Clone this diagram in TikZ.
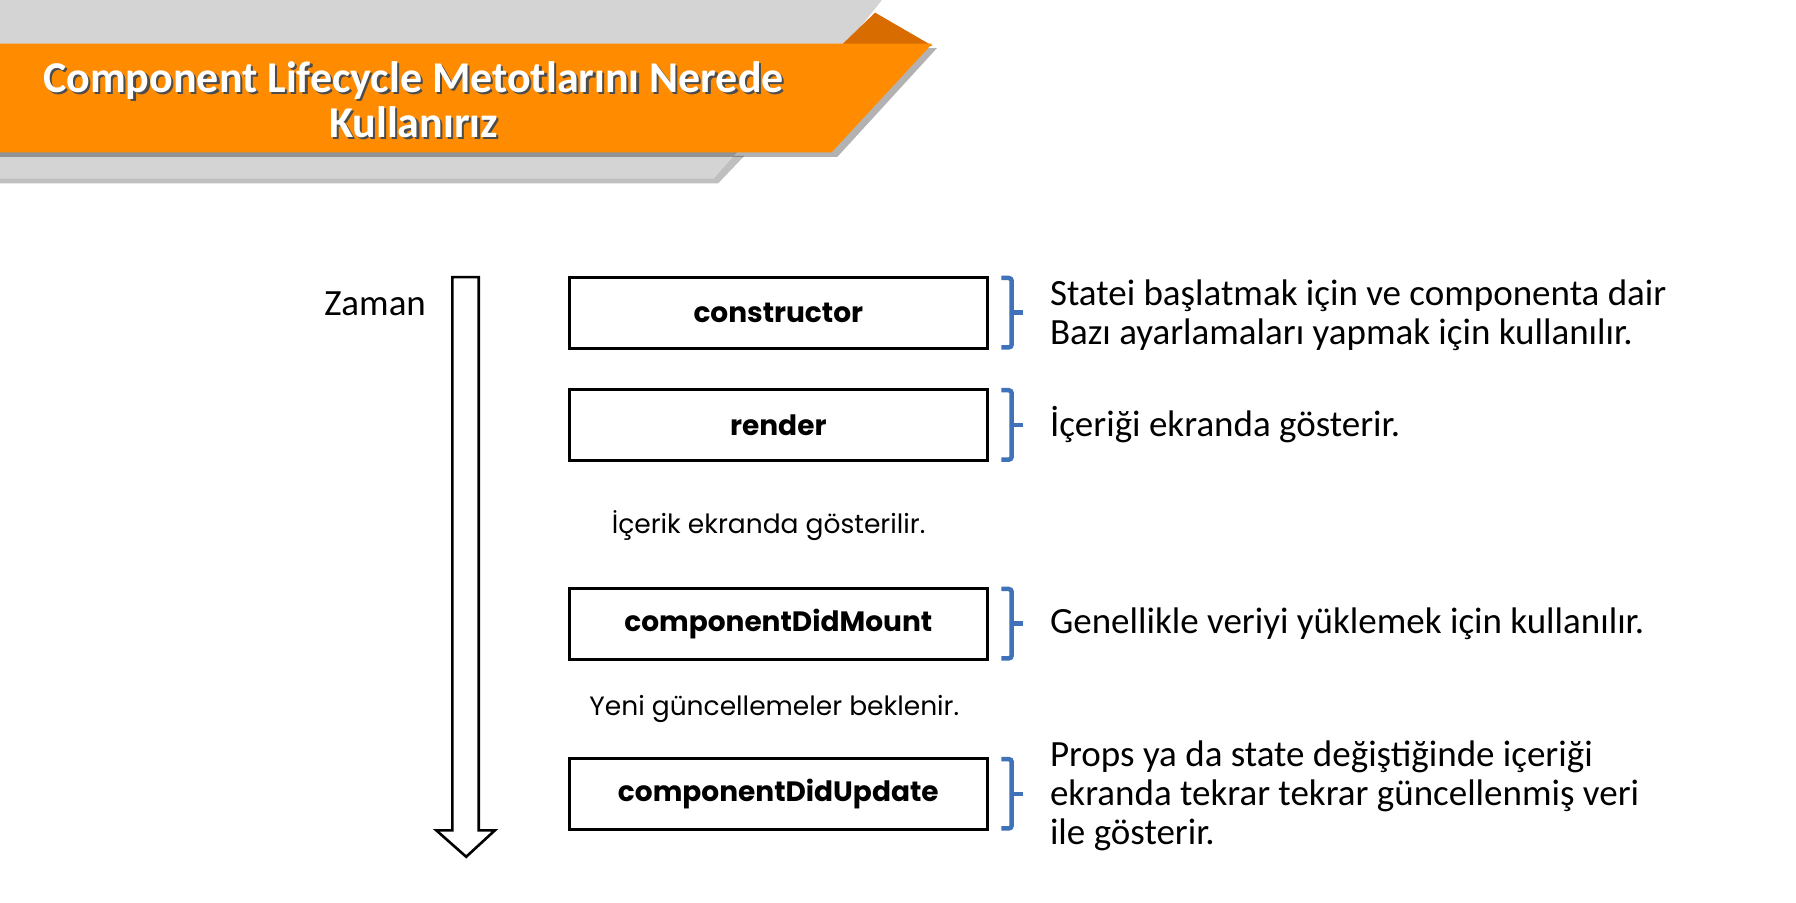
\documentclass[tikz,border=0pt]{standalone}
\usepackage{fontspec}
\setmainfont{Carlito}
\newfontfamily\boxfont{Poppins}
\usetikzlibrary{positioning,calc}

\definecolor{bannerorange}{HTML}{FF8C00}
\definecolor{bannerdark}{HTML}{D96C00}
\definecolor{bannergray}{HTML}{D4D4D4}
\definecolor{braceblue}{HTML}{3F72B9}

% brace on the right side of a method box
\newcommand{\methodbrace}[1]{%
  \draw[bracket] ($(#1.north east)+(11,2)$) -- ($(#1.north east)+(20,2)$)
    -- ($(#1.south east)+(20,-2)$) -- ($(#1.south east)+(11,-2)$);
  \draw[bracket] ($(#1.east)+(20,0)$) -- ++(10,0);}

\begin{document}
\begin{tikzpicture}[x=1.1454pt, y=-1.1454pt,
    method/.style={draw, line width=3pt, minimum width=418pt, minimum height=71pt,
      inner sep=0pt, font=\boxfont\bfseries\fontsize{28}{32}\selectfont},
    waiting/.style={inner sep=0pt, font=\boxfont\fontsize{26.5}{30}\selectfont},
    explain/.style={inner sep=0pt, align=left, font=\fontsize{37}{39}\selectfont},
    bracket/.style={braceblue, line width=4.5pt, rounded corners=3pt},
    titletext/.style={inner sep=0pt, align=center, font=\bfseries\fontsize{44}{45}\selectfont}]

    \useasboundingbox (0,0) rectangle (1568,788);

    % banner
    \fill[bannergray] (0,0) -- (770,0) -- (738,40) -- (0,40) -- cycle;
    \fill[bannerdark] (734,40) -- (764,11) -- (814,40) -- cycle;
    \fill[black, opacity=0.25] (0,136) -- (650,136) -- (627,160) -- (0,160) -- cycle;
    \fill[bannergray] (0,130) -- (646,130) -- (623,156) -- (0,156) -- cycle;
    \fill[black, opacity=0.3] (0,42) -- (818,42) -- (731,137) -- (0,137) -- cycle;
    \fill[bannerorange] (0,38) -- (814,38) -- (726,133) -- (0,133) -- cycle;

    \node[titletext, black!70] (titleshadow) at (363,89) {Component Lifecycle Metotlarını Nerede\\Kullanırız};
    \node[titletext, white] (title) at (361,87) {Component Lifecycle Metotlarını Nerede\\Kullanırız};

    % time arrow
    \draw[line width=2.6pt, line join=miter] (395,242) coordinate(arrowtop) -- (418,242) -- (418,725)
      -- (432,725) -- (407,748) coordinate(arrowtip) -- (381,725) -- (395,725) -- cycle;
    \node[anchor=east, inner sep=0pt, font=\fontsize{37}{39}\selectfont] (zaman) at (372,265) {Zaman};

    % lifecycle methods
    \node[method] (cons) at (679.5,273) {constructor};
    \node[method] (rend) at (679.5,371) {render};
    \node[method] (mount) at (679.5,544.5) {componentDidMount};
    \node[method] (update) at (679.5,693) {componentDidUpdate};

    \node[waiting] (shown) at (671,459) {İçerik ekranda gösterilir.};
    \node[waiting] (wait) at (676,619) {Yeni güncellemeler beklenir.};

    \methodbrace{cons}
    \methodbrace{rend}
    \methodbrace{mount}
    \methodbrace{update}

    \node[explain, right=61pt of cons, yshift=-3pt] (consinfo) {Statei başlatmak için ve componenta dair\\Bazı ayarlamaları yapmak için kullanılır.};
    \node[explain, right=61pt of rend] (rendinfo) {İçeriği ekranda gösterir.};
    \node[explain, right=61pt of mount] (mountinfo) {Genellikle veriyi yüklemek için kullanılır.};
    \node[explain, right=61pt of update, yshift=-2pt] (updateinfo) {Props ya da state değiştiğinde içeriği\\ekranda tekrar tekrar güncellenmiş veri\\ile gösterir.};

\end{tikzpicture}
\end{document}
